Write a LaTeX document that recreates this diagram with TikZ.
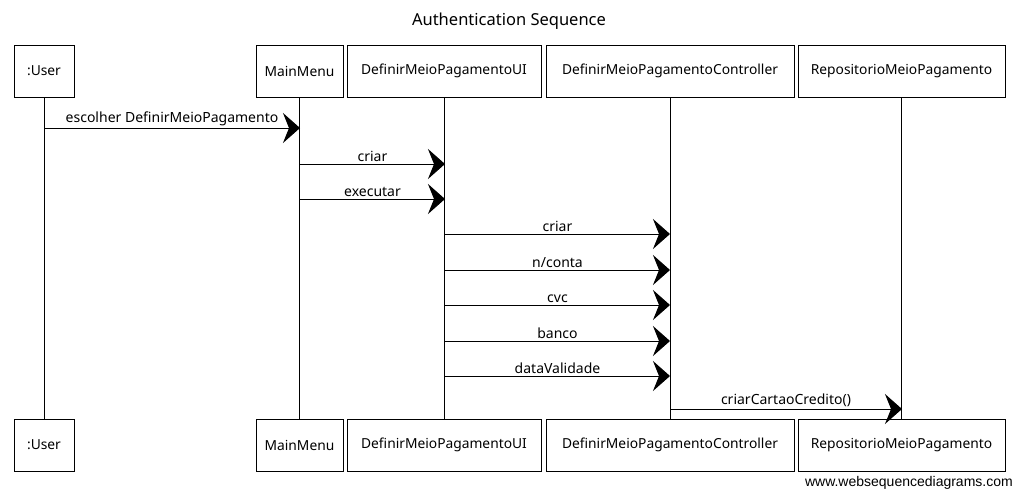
\documentclass[tikz,border=0pt]{standalone}
\usepackage{fontspec}
\setmainfont{Noto Sans}
\newfontfamily\wmfont{Liberation Sans}
\usetikzlibrary{arrows.meta}
\begin{document}
\begin{tikzpicture}[x=1pt,y=-1pt,
  actor/.style={draw=black,line width=0.9pt,minimum height=52pt,inner sep=0pt,font=\fontsize{13.8}{16}\selectfont},
  life/.style={draw=black,line width=0.7pt},
  msg/.style={draw=black,line width=1pt,-{Stealth[length=17pt,width=30pt,inset=6pt]}},
  lbl/.style={font=\fontsize{14}{16}\selectfont,inner sep=1pt}]
\useasboundingbox (0,0) rectangle (1015,491);
\node[font=\fontsize{16.5}{19}\selectfont] (title) at (509,21) {Authentication Sequence};
% top actors
\node[actor,minimum width=60pt] (ut) at (44,71) {:User};
\node[actor,minimum width=87pt] (mt) at (299.5,71) {MainMenu};
\node[actor,minimum width=194pt] (it) at (444,71) {DefinirMeioPagamentoUI};
\node[actor,minimum width=248pt] (ct) at (670,71) {DefinirMeioPagamentoController};
\node[actor,minimum width=207pt] (rt) at (901.5,71) {RepositorioMeioPagamento};
% bottom actors
\node[actor,minimum width=60pt] (ub) at (44,445) {:User};
\node[actor,minimum width=87pt] (mb) at (299.5,445) {MainMenu};
\node[actor,minimum width=194pt] (ib) at (444,445) {DefinirMeioPagamentoUI};
\node[actor,minimum width=248pt] (cb) at (670,445) {DefinirMeioPagamentoController};
\node[actor,minimum width=207pt] (rb) at (901.5,445) {RepositorioMeioPagamento};
% lifelines
\draw[life] (ut.south) -- (ub.north);
\draw[life] (mt.south) -- (mb.north);
\draw[life] (it.south) -- (ib.north);
\draw[life] (ct.south) -- (cb.north);
\draw[life] (rt.south) -- (rb.north);
% message endpoints
\coordinate (a1) at (44,128);  \coordinate (b1) at (300,128);
\coordinate (a2) at (300,164); \coordinate (b2) at (445,164);
\coordinate (a3) at (300,199); \coordinate (b3) at (445,199);
\coordinate (a4) at (445,234); \coordinate (b4) at (670,234);
\coordinate (a5) at (445,270); \coordinate (b5) at (670,270);
\coordinate (a6) at (445,305); \coordinate (b6) at (670,305);
\coordinate (a7) at (445,341); \coordinate (b7) at (670,341);
\coordinate (a8) at (445,376); \coordinate (b8) at (670,376);
\coordinate (a9) at (670,409); \coordinate (b9) at (902,409);
\draw[msg] (a1) -- node[lbl,above=1pt] (l1) {escolher DefinirMeioPagamento} (b1);
\draw[msg] (a2) -- node[lbl,above=1pt] (l2) {criar} (b2);
\draw[msg] (a3) -- node[lbl,above=1pt] (l3) {executar} (b3);
\draw[msg] (a4) -- node[lbl,above=1pt] (l4) {criar} (b4);
\draw[msg] (a5) -- node[lbl,above=1pt] (l5) {n/conta} (b5);
\draw[msg] (a6) -- node[lbl,above=1pt] (l6) {cvc} (b6);
\draw[msg] (a7) -- node[lbl,above=1pt] (l7) {banco} (b7);
\draw[msg] (a8) -- node[lbl,above=1pt] (l8) {dataValidade} (b8);
\draw[msg] (a9) -- node[lbl,above=1pt] (l9) {criarCartaoCredito()} (b9);
\node[anchor=east,font=\wmfont\fontsize{14}{16}\selectfont,inner sep=0pt] (wm) at (1013,483) {www.websequencediagrams.com};
\end{tikzpicture}
\end{document}
